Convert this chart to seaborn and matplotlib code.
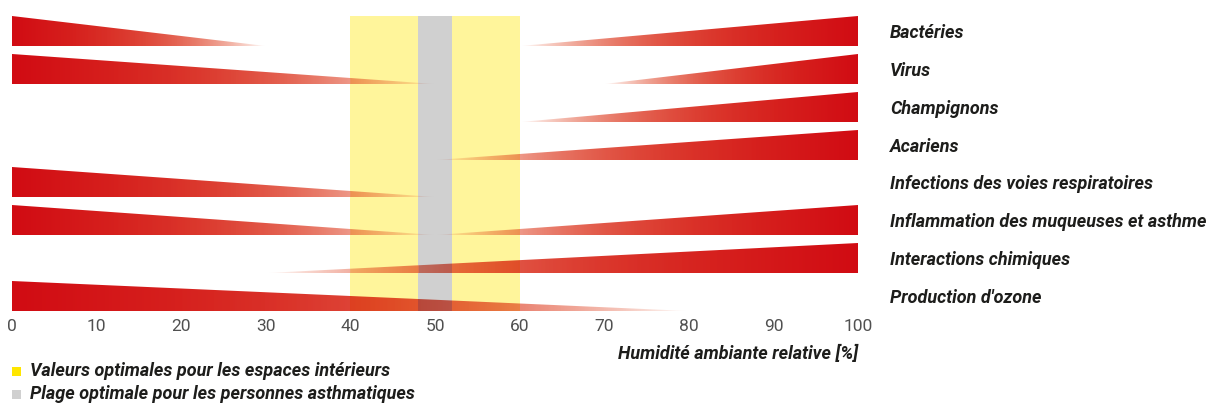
import numpy as np
import matplotlib
matplotlib.use("Agg")
import matplotlib.pyplot as plt
from matplotlib.colors import to_rgb
from matplotlib.patches import Polygon, Rectangle
import seaborn as sns

# -----------------------------------------------------------
# Data
# -----------------------------------------------------------
categories = ["Bactéries", "Virus", "Champignons", "Acariens",
              "Infections des voies respiratoires",
              "Inflammation des muqueuses et asthme",
              "Interactions chimiques", "Production d'ozone"]
# left wedge: full at 0 %, tapering to zero at this humidity
left_end = [30, 50, None, None, 50, 50, None, 80]
# right wedge: zero at this humidity, full at 100 %
right_start = [60, 70, 60, 50, None, 50, 30, None]

ticks = list(range(0, 101, 10))
optimal_range = (40, 60)
asthma_range = (48, 52)

legend_labels = ["Valeurs optimales pour les espaces intérieurs",
                 "Plage optimale pour les personnes asthmatiques"]

# -----------------------------------------------------------
# Style
# -----------------------------------------------------------
sns.set_theme(style="white")
plt.rcParams["font.family"] = ["Roboto", "DejaVu Sans"]
plt.rcParams["image.composite_image"] = False

RED = np.array([0.82, 0.04, 0.07])
TIP = np.array([0.90, 0.38, 0.24])
YELLOW = "#fff59b"
GREY = "#d0d0d0"
TEXT = "#1d1d1b"
HALF = 0.395
FS = 13


def gradient(x_full, x_tip, n=1024):
    # colour ramp, multiplied by the band colour underneath (like a
    # "multiply" blend in the original artwork)
    lo, hi = min(x_full, x_tip), max(x_full, x_tip)
    x = np.linspace(lo, hi, n)
    t = np.abs(x - x_full) / abs(x_tip - x_full)
    bg = np.ones((n, 3))
    bg[(x >= optimal_range[0]) & (x <= optimal_range[1])] = to_rgb(YELLOW)
    bg[(x >= asthma_range[0]) & (x <= asthma_range[1])] = to_rgb(GREY)
    rgba = np.zeros((1, n, 4))
    col = RED[None, :] * (1 - t[:, None]) + TIP[None, :] * t[:, None]
    rgba[0, :, :3] = col * bg
    rgba[0, :, 3] = 1 - t ** 4
    return rgba, (lo, hi)


def wedge(ax, y, x_full, x_tip):
    top, bottom = y - HALF, y + HALF
    poly = Polygon([(x_full, top), (x_full, bottom), (x_tip, bottom)],
                   closed=True, facecolor="none", edgecolor="none",
                   transform=ax.transData)
    ax.add_patch(poly)
    rgba, (lo, hi) = gradient(x_full, x_tip)
    im = ax.imshow(rgba, extent=(lo, hi, bottom, top),
                   aspect="auto", interpolation="nearest", zorder=3)
    im.set_clip_path(poly)


fig = plt.figure(figsize=(12.08, 4.03), dpi=100)
ax = fig.add_axes([12 / 1208, 92 / 403, 846 / 1208, 295 / 403])

ax.axvspan(*optimal_range, color=YELLOW, lw=0, zorder=1)
ax.axvspan(*asthma_range, color=GREY, lw=0, zorder=2)

for i in range(len(categories)):
    if left_end[i] is not None:
        wedge(ax, i, 0, left_end[i])
    if right_start[i] is not None:
        wedge(ax, i, 100, right_start[i])

ax.set_xlim(0, 100)
ax.set_ylim(len(categories) - 1 + HALF, -HALF)

ax.set_xticks(ticks)
ax.set_xticklabels([str(t) for t in ticks], color="#505050", fontsize=12.5)
ax.yaxis.tick_right()
ax.set_yticks(range(len(categories)))
ax.set_yticklabels(categories, fontsize=FS, fontweight="bold",
                   fontstyle="italic", color=TEXT)
ax.tick_params(axis="y", length=0, pad=23)
ax.tick_params(axis="x", length=0, pad=6)
ax.set_xlabel("Humidité ambiante relative [%]", fontsize=FS,
              fontweight="bold", fontstyle="italic", color=TEXT)
ax.xaxis.set_label_coords(1.0, -0.115)
ax.xaxis.label.set_horizontalalignment("right")
sns.despine(ax=ax, left=True, bottom=True)
ax.grid(False)

# legend at the bottom left
for k, (lab, col) in enumerate(zip(legend_labels, ["#ffe600", GREY])):
    yk = 1 - (371 + 23 * k) / 403
    fig.patches.append(Rectangle((12 / 1208, yk - 4.5 / 403), 9 / 1208, 9 / 403,
                                 transform=fig.transFigure, color=col, lw=0))
    fig.text(30 / 1208, yk, lab, fontsize=FS, fontweight="bold",
             fontstyle="italic", color=TEXT, va="center", ha="left")

fig.savefig("out.png", dpi=100)
